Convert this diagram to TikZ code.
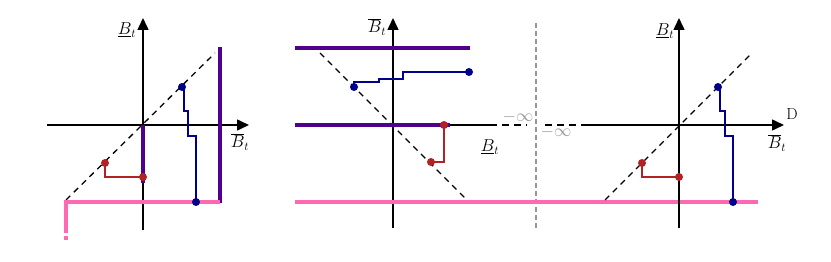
\documentclass[tikz,border=0pt]{standalone}
\usetikzlibrary{arrows.meta}
\definecolor{cpurple}{RGB}{80,0,140}
\definecolor{cpink}{RGB}{255,105,180}
\definecolor{cred}{RGB}{178,34,34}
\definecolor{cblue}{RGB}{0,0,139}
\definecolor{cgray}{RGB}{150,150,150}
\begin{document}
\begin{tikzpicture}[x=1pt,y=-1pt,
  axis/.style={line width=1.5pt,black},
  axisarrow/.style={axis,-{Triangle[length=12pt,width=11pt]}},
  diag/.style={line width=1.3pt,black,dash pattern=on 6pt off 5pt},
  axdash/.style={line width=1.5pt,black,dash pattern=on 7pt off 5pt},
  purpleline/.style={line width=3.05pt,cpurple},
  pinkline/.style={line width=3.05pt,cpink},
  redline/.style={line width=2.6pt,cred},
  blueline/.style={line width=2.6pt,cblue},
  dot/.style={circle,inner sep=0pt,minimum size=8pt,fill=#1},
  lbl/.style={inner sep=0pt,font=\fontsize{16.5}{19}\selectfont},
  dlbl/.style={inner sep=0pt,font=\fontsize{16}{19}\selectfont},
  glbl/.style={inner sep=0pt,text=cgray,font=\fontsize{16}{19}\selectfont},
  vsep/.style={line width=1.1pt,cgray,dash pattern=on 5pt off 3pt}]
\useasboundingbox (0,0) rectangle (831,262);

% ---------- Panel 1 ----------
\coordinate (A1b) at (143,230); \coordinate (A1t) at (143,18);
\coordinate (X1l) at (47,125); \coordinate (X1r) at (249,125);
\coordinate (D1a) at (66,200); \coordinate (D1b) at (215,53);
\coordinate (P1a) at (220,47); \coordinate (P1b) at (220,203);
\coordinate (P1c) at (143,125); \coordinate (P1d) at (143,183);
\coordinate (K1a) at (66,202); \coordinate (K1b) at (220,202);
\coordinate (K1c) at (66,233); \coordinate (K1d) at (66,236); \coordinate (K1e) at (66,240);
\draw[axisarrow] (A1b) -- (A1t);
\draw[axisarrow] (X1l) -- (X1r);
\draw[diag] (D1a) -- (D1b);
\draw[purpleline] (P1a) -- (P1b);
\draw[purpleline] (P1c) -- (P1d);
\draw[pinkline] (K1b) -- (K1a) -- (K1c);
\draw[pinkline] (K1d) -- (K1e);
\node[dot=cred] (r1a) at (105,163) {};
\node[dot=cred] (r1b) at (143,177) {};
\draw[redline] (r1a.center) |- (r1b.center);
\node[dot=cblue] (b1a) at (182,87) {};
\node[dot=cblue] (b1b) at (196,202) {};
\draw[blueline] (b1a.center) -- ++(2,0) -- ++(0,24) -- ++(4,0) -- ++(0,25) -- ++(8,0) -- (b1b.center);
\node[lbl] (l1y) at (127,30) {$\underline{B}_t$};
\node[lbl] (l1x) at (240,142) {$\overline{B}_t$};

% ---------- Panel 2 ----------
\coordinate (A2b) at (393,228); \coordinate (A2t) at (393,18);
\coordinate (X2l) at (295,125); \coordinate (X2m) at (490,125); \coordinate (X2r) at (527,125);
\coordinate (D2a) at (320,53); \coordinate (D2b) at (468,201);
\coordinate (P2a) at (295,48); \coordinate (P2b) at (470,48);
\coordinate (P2c) at (295,125); \coordinate (P2d) at (450,125);
\coordinate (K2a) at (295,202); \coordinate (K2b) at (758,202);
\coordinate (V2a) at (536,23); \coordinate (V2b) at (536,228);
\draw[axisarrow] (A2b) -- (A2t);
\draw[axis] (X2l) -- (X2m);
\draw[axdash] (X2m) -- (X2r);
\draw[vsep] (V2a) -- (V2b);
\draw[diag] (D2a) -- (D2b);
\draw[purpleline] (P2a) -- (P2b);
\draw[purpleline] (P2c) -- (P2d);
\draw[pinkline] (K2a) -- (K2b);
\node[dot=cblue] (b2a) at (354,87) {};
\node[dot=cblue] (b2b) at (469,72) {};
\draw[blueline] (b2a.center) -- ++(0,-5) -- ++(25,0) -- ++(0,-3) -- ++(24,0) -- ++(0,-7) -- (b2b.center);
\node[dot=cred] (r2a) at (444,125) {};
\node[dot=cred] (r2b) at (431,162) {};
\draw[redline] (r2a.center) |- (r2b.center);
\node[lbl] (l2y) at (377,27) {$\overline{B}_t$};
\node[lbl] (l2x) at (490,147) {$\underline{B}_t$};
\node[glbl] (inf1) at (518,117) {$-\infty$};
\node[glbl] (inf2) at (556,132) {$-\infty$};

% ---------- Panel 3 ----------
\coordinate (A3b) at (679,228); \coordinate (A3t) at (679,18);
\coordinate (X3l) at (545,125); \coordinate (X3m) at (583,125); \coordinate (X3r) at (784,125);
\coordinate (D3a) at (605,200); \coordinate (D3b) at (752,53);
\draw[axisarrow] (A3b) -- (A3t);
\draw[axdash] (X3l) -- (X3m);
\draw[axisarrow] (X3m) -- (X3r);
\draw[diag] (D3a) -- (D3b);
\node[dot=cblue] (b3a) at (718,87) {};
\node[dot=cblue] (b3b) at (733,202) {};
\draw[blueline] (b3a.center) -- ++(2,0) -- ++(0,24) -- ++(5,0) -- ++(0,25) -- ++(8,0) -- (b3b.center);
\node[dot=cred] (r3a) at (642,163) {};
\node[dot=cred] (r3b) at (679,177) {};
\draw[redline] (r3a.center) |- (r3b.center);
\node[lbl] (l3y) at (665,31) {$\underline{B}_t$};
\node[lbl] (l3x) at (777,143) {$\overline{B}_t$};
\node[dlbl] (l3d) at (792,114) {D};
\end{tikzpicture}
\end{document}
